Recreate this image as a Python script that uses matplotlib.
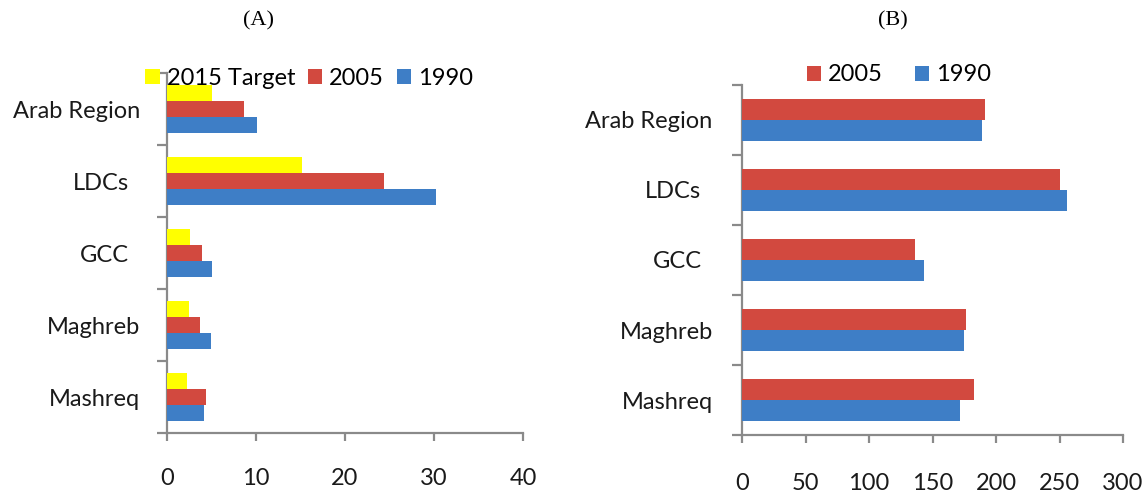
import matplotlib
matplotlib.use("Agg")
import matplotlib.pyplot as plt
import matplotlib.transforms as mtransforms
import numpy as np

# ---------------- data ----------------
regions = ["Arab Region", "LDCs", "GCC", "Maghreb", "Mashreq"]

# Panel (A)
a_target_2015 = [5.1, 15.2, 2.6, 2.5, 2.2]
a_2005 = [8.7, 24.4, 3.9, 3.7, 4.4]
a_1990 = [10.1, 30.2, 5.0, 4.9, 4.2]
a_xticks = [0, 10, 20, 30, 40]

# Panel (B)
b_2005 = [191, 250, 136, 176, 183]
b_1990 = [189, 256, 143, 175, 172]
b_xticks = [0, 50, 100, 150, 200, 250, 300]

YELLOW = "#FFFF00"
RED = "#D2493F"
BLUE = "#3E7EC6"
AXC = "#8A8A8A"
FONT = "Lato"

fig = plt.figure(figsize=(11.48, 4.94), dpi=100)

W, H = 1148, 494
def axes_px(x0, x1, ytop, ybot):
    return fig.add_axes([x0 / W, 1 - ybot / H, (x1 - x0) / W, (ybot - ytop) / H])

axA = axes_px(167, 523, 73, 433)
axB = axes_px(742, 1123, 85, 435)

ypos = np.arange(len(regions))

def style(ax, xticks, label_offsets_px, ypad, xpad):
    for s in ["top", "right"]:
        ax.spines[s].set_visible(False)
    for s in ["left", "bottom"]:
        ax.spines[s].set_color(AXC)
        ax.spines[s].set_linewidth(1.6)
    ax.set_ylim(len(regions) - 0.5, -0.5)
    ax.set_xlim(xticks[0], xticks[-1])
    ax.set_xticks(xticks)
    ax.set_xticklabels([str(t) for t in xticks], fontsize=17, family=FONT, color="#1a1a1a")
    ax.tick_params(axis="x", direction="out", length=6, width=1.6, color=AXC, pad=xpad)
    ax.set_yticks(ypos)
    ax.set_yticklabels(regions, fontsize=17, family=FONT, color="#1a1a1a")
    ax.set_yticks(np.arange(-0.5, len(regions)), minor=True)
    ax.tick_params(axis="y", which="major", length=0, pad=ypad)
    ax.tick_params(axis="y", which="minor", direction="out", length=7, width=1.6, color=AXC)
    for lab, dx in zip(ax.get_yticklabels(), label_offsets_px):
        lab.set_transform(lab.get_transform() + mtransforms.ScaledTranslation(dx / 100.0, 0, fig.dpi_scale_trans))

# ---- Panel A ----
hA = 0.22
axA.barh(ypos - hA, a_target_2015, height=hA, color=YELLOW, label="2015 Target", zorder=3)
axA.barh(ypos, a_2005, height=hA, color=RED, label="2005", zorder=3)
axA.barh(ypos + hA, a_1990, height=hA, color=BLUE, label="1990", zorder=3)
style(axA, a_xticks, [0, -11, -11, 0, 0], ypad=19.5, xpad=19)
legA = axA.legend(loc="center", bbox_to_anchor=(0.40, 0.986), ncol=3, frameon=False,
                  prop={"family": FONT, "size": 17}, handlelength=0.6, handleheight=0.6,
                  handletextpad=0.3, columnspacing=0.55, borderpad=0)
legA.set_zorder(10)

# ---- Panel B ----
hB = 0.30
axB.barh(ypos - hB / 2, b_2005, height=hB, color=RED, label="2005", zorder=3)
axB.barh(ypos + hB / 2, b_1990, height=hB, color=BLUE, label="1990", zorder=3)
style(axB, b_xticks, [0, -11, -10, 1, 1], ypad=21.5, xpad=21)
legB = axB.legend(loc="center", bbox_to_anchor=(0.412, 1.029), ncol=2, frameon=False,
                  prop={"family": FONT, "size": 17}, handlelength=0.6, handleheight=0.6,
                  handletextpad=0.3, columnspacing=1.35, borderpad=0)

fig.text(259 / W, 1 - 21 / H, "(A)", ha="center", va="center", fontsize=16, family="Liberation Serif")
fig.text(893 / W, 1 - 21 / H, "(B)", ha="center", va="center", fontsize=16, family="Liberation Serif")

fig.savefig("out.png", dpi=100)
